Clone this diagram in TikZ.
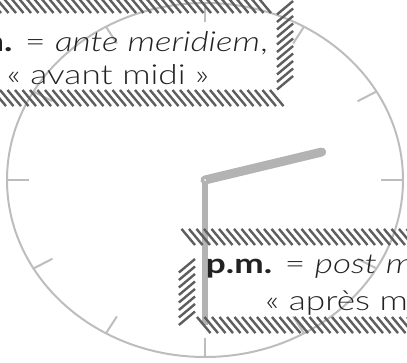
\documentclass[tikz,border=0pt]{standalone}
\usepackage{fontspec}
\IfFontExistsTF{Lato Light}{\setmainfont{Lato Light}[BoldFont=Lato Bold,FakeStretch=1.28]}{\setmainfont{Lato}[FakeStretch=1.28]}
\usetikzlibrary{decorations.pathreplacing}
\definecolor{ink}{HTML}{222222}
\definecolor{hatchgray}{HTML}{5E5E5E}
\definecolor{clockgray}{HTML}{BDBDBD}
\definecolor{handgray}{HTML}{B3B3B3}
\tikzset{
  clockface/.style={draw=clockgray, line width=2pt},
  hourhand/.style={draw=handgray, line width=9pt, line cap=round},
  minutehand/.style={draw=handgray, line width=5.5pt},
  hatchbox/.style={draw=hatchgray, line width=2.4pt, decorate,
    decoration={border, segment length=7.5pt, amplitude=21pt, angle=130}},
  boxline/.style={anchor=base, text=ink, font=\fontsize{27.5}{32}\selectfont}
}
\begin{document}
\begin{tikzpicture}[x=1pt,y=1pt]

\clip (0,0) rectangle (407,362);

\begin{scope}[shift={(205,182)},x=198pt,y=177pt]
\coordinate (centre) at (0,0);
\draw[clockface] (centre) ellipse [x radius=1, y radius=1];
\foreach \a in {0,30,...,330}
  \draw[clockface] (\a:0.89) -- (\a:1);
\draw[hourhand] (centre) -- (15:0.61);
\draw[minutehand] (centre) -- (270:0.82);
\fill[white] (centre) circle (1pt);
\end{scope}

\draw[hatchbox] (-59,349) -- (277,349) -- (277,272) -- (-59,272) -- cycle;
\draw[hatchbox] (195,117) -- (475,117) -- (475,45) -- (195,45) -- cycle;

\node[boxline] (amline) at (108,310) {\textbf{a.m.} = \textit{ante meridiem},};
\node[boxline] (amfr) at (108,277) {«~avant midi~»};

\node[boxline] (pmline) at (366,89) {\textbf{p.m.} = \textit{post meridiem},};
\node[boxline] (pmfr) at (366,52) {«~après midi~»};

\end{tikzpicture}
\end{document}
